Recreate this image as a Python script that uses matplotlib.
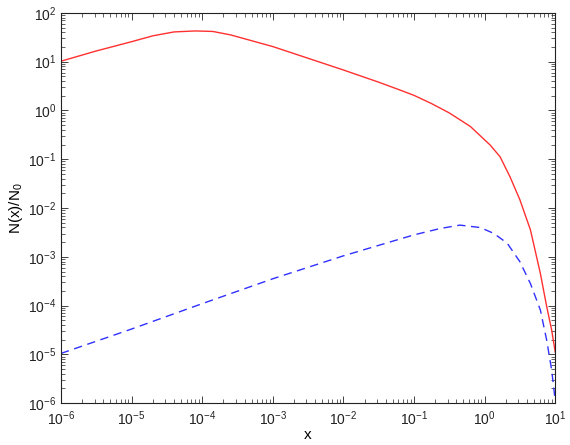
import numpy as np
import matplotlib
matplotlib.use("Agg")
import matplotlib.pyplot as plt

plt.rcParams['font.family'] = ['Liberation Sans', 'DejaVu Sans']
plt.rcParams['mathtext.fontset'] = 'custom'
plt.rcParams['mathtext.rm'] = 'Liberation Sans'
plt.rcParams['mathtext.it'] = 'Liberation Sans'

# values (log10 x, log10 y)
red_logx = [-6.0, -5.5, -5.0, -4.7, -4.4, -4.1, -3.85, -3.6, -3.3, -3.0, -2.5, -2.0,
            -1.5, -1.2, -1.0, -0.75, -0.5, -0.2, 0.08, 0.22, 0.36, 0.5, 0.65, 0.79,
            0.88, 0.95, 1.0]
red_logy = [1.01, 1.22, 1.41, 1.53, 1.61, 1.63, 1.62, 1.55, 1.43, 1.31, 1.07, 0.83,
            0.58, 0.42, 0.31, 0.14, -0.05, -0.33, -0.71, -0.95, -1.36, -1.83, -2.45, -3.34,
            -4.02, -4.5, -4.95]

blue_logx = [-6.0, -5.0, -4.0, -3.0, -2.0, -1.0, -0.63, -0.35, -0.06, 0.13, 0.32,
             0.5, 0.65, 0.79, 0.88, 0.95, 1.0]
blue_logy = [-4.98, -4.48, -3.96, -3.45, -2.98, -2.55, -2.42, -2.35, -2.4, -2.52, -2.72,
             -3.1, -3.55, -4.09, -4.71, -5.32, -5.94]

red_x = 10.0 ** np.array(red_logx)
red_y = 10.0 ** np.array(red_logy)
blue_x = 10.0 ** np.array(blue_logx)
blue_y = 10.0 ** np.array(blue_logy)

fig = plt.figure(figsize=(5.7, 4.45), dpi=100)
ax = fig.add_axes([0.107, 0.094, 0.867, 0.877])

ax.plot(red_x, red_y, color='#ff3030', linewidth=1.0)
ax.plot(blue_x, blue_y, color='#3030ff', linewidth=1.0, linestyle=(0, (6, 4)))

ax.set_xscale('log')
ax.set_yscale('log')
ax.set_xlim(1e-6, 1e1)
ax.set_ylim(1e-6, 1e2)
ax.set_xticks([10.0 ** k for k in range(-6, 2)])
ax.set_yticks([10.0 ** k for k in range(-6, 3)])

ax.tick_params(which='both', direction='in', top=True, right=True, labelsize=10, colors='#222222')
ax.tick_params(which='major', length=5, width=0.6)
ax.tick_params(which='minor', length=3, width=0.5)
ax.tick_params(axis='x', which='major', pad=4.5)
for s in ax.spines.values():
    s.set_linewidth(0.8)
    s.set_color('#222222')

ax.set_xlabel('x', fontsize=11, labelpad=0)
ax.set_ylabel(r'N(x)/N$_0$', fontsize=11, labelpad=2)

fig.savefig('out.png', dpi=100)
